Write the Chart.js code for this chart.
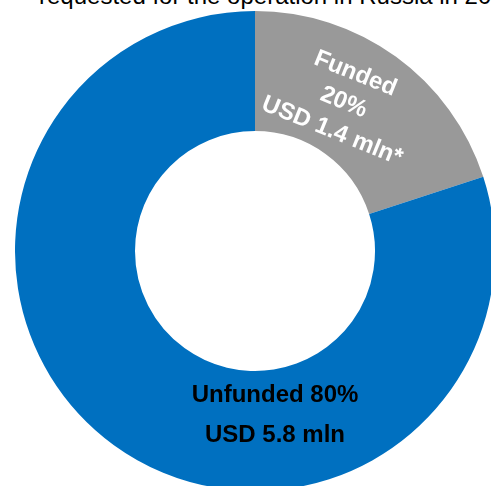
<!DOCTYPE html>
<html>
<head>
<meta charset="utf-8">
<script src="https://cdn.jsdelivr.net/npm/chart.js@4.4.0/dist/chart.umd.min.js"></script>
<style>
    html, body {
        margin: 0;
        padding: 0;
        width: 491px;
        height: 486px;
        overflow: hidden;
        background: #ffffff;
    }
    #title {
        position: absolute;
        left: 39px;
        top: -16px;
        font: 24px "Liberation Sans", Arial, sans-serif;
        line-height: 24px;
        color: #000;
        white-space: nowrap;
    }
    #wrap {
        position: absolute;
        left: 15px;
        top: 11px;
        width: 480px;
        height: 480px;
    }
</style>
</head>
<body>
<div id="title">requested for the operation in Russia in 2022</div>
<div id="wrap"><canvas id="fundChart"></canvas></div>
<script>
// Chart data
const labels = ["Funded", "Unfunded"];
const shares = [20, 80];
const amountsUsd = [1.4, 5.8];
const colors = ["#999999", "#0070C0"];

// Draws the slice labels on top of the doughnut
const sliceLabels = {
    id: "sliceLabels",
    afterDatasetsDraw(chart) {
        const ctx = chart.ctx;
        const arcs = chart.getDatasetMeta(0).data;

        // Funded: white, rotated, inside the grey slice
        const a = arcs[0];
        const mid = (a.startAngle + a.endAngle) / 2 - 0.09;
        const r = (a.innerRadius + a.outerRadius) / 2 - 7;
        ctx.save();
        ctx.translate(a.x + Math.cos(mid) * r, a.y + Math.sin(mid) * r);
        ctx.rotate(22 * Math.PI / 180);
        ctx.fillStyle = "#ffffff";
        ctx.font = "bold 24px 'Liberation Sans', Arial, sans-serif";
        ctx.textAlign = "center";
        ctx.textBaseline = "middle";
        ctx.fillText(labels[0], 0, -31);
        ctx.fillText(shares[0] + "%", 0, 0);
        ctx.fillText("USD " + amountsUsd[0] + " mln*", 0, 31);
        ctx.restore();

        // Unfunded: black, below the hole
        const b = arcs[1];
        ctx.save();
        ctx.fillStyle = "#000000";
        ctx.font = "bold 24px 'Liberation Sans', Arial, sans-serif";
        ctx.textAlign = "center";
        ctx.textBaseline = "middle";
        ctx.fillText(labels[1] + " " + shares[1] + "%", b.x + 20, b.y + b.innerRadius + 24);
        ctx.fillText("USD " + amountsUsd[1] + " mln", b.x + 20, b.y + b.innerRadius + 64);
        ctx.restore();
    }
};

new Chart(document.getElementById("fundChart"), {
    type: "doughnut",
    data: {
        labels: labels,
        datasets: [{
            data: shares,
            backgroundColor: colors,
            borderWidth: 0
        }]
    },
    options: {
        responsive: true,
        maintainAspectRatio: false,
        animation: false,
        cutout: "50%",
        layout: { padding: 0 },
        plugins: {
            legend: { display: false },
            tooltip: { enabled: false },
            title: { display: false }
        }
    },
    plugins: [sliceLabels]
});
</script>
</body>
</html>
